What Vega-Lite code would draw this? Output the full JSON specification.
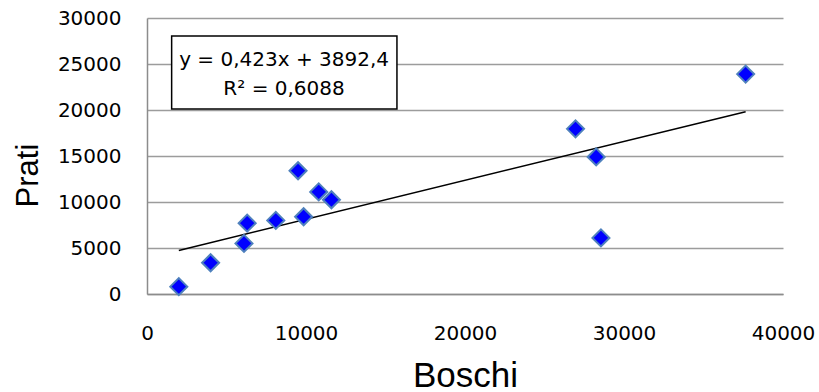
{
  "$schema": "https://vega.github.io/schema/vega-lite/v6.json",
  "autosize": {"type": "none"},
  "width": 636,
  "height": 276,
  "padding": {"left": 147, "top": 18, "right": 36, "bottom": 98},
  "background": "white",
  "config": {"view": {"stroke": null}},
  "datasets": {
    "points": [
      {"Boschi": 2000, "Prati": 800},
      {"Boschi": 4000, "Prati": 3400},
      {"Boschi": 6100, "Prati": 5500},
      {"Boschi": 6300, "Prati": 7700},
      {"Boschi": 8100, "Prati": 8000},
      {"Boschi": 9500, "Prati": 13400},
      {"Boschi": 9850, "Prati": 8400},
      {"Boschi": 10800, "Prati": 11100},
      {"Boschi": 11600, "Prati": 10250},
      {"Boschi": 26950, "Prati": 17950},
      {"Boschi": 28250, "Prati": 14900},
      {"Boschi": 28550, "Prati": 6100},
      {"Boschi": 37650, "Prati": 23900}
    ],
    "trend": [
      {"Boschi": 2000, "Prati": 4738},
      {"Boschi": 37650, "Prati": 19818}
    ],
    "box": [
      {"x1": 1550, "x2": 15720, "y1": 20110, "y2": 28040}
    ],
    "label": [
      {"x": 8620, "y": 24730, "t": "y = 0,423x + 3892,4"},
      {"x": 8620, "y": 21630, "t": "R² = 0,6088"}
    ]
  },
  "layer": [
    {
      "data": {"name": "trend"},
      "mark": {"type": "line", "color": "black", "strokeWidth": 1.5},
      "encoding": {
        "x": {
          "field": "Boschi", "type": "quantitative",
          "scale": {"domain": [0, 40000], "nice": false},
          "axis": {
            "title": "Boschi", "values": [0, 10000, 20000, 30000, 40000], "format": "d",
            "grid": false, "ticks": false, "domain": true, "domainColor": "#8C8C8C", "domainWidth": 1.5,
            "labelFont": "DejaVu Sans", "labelFontSize": 20, "labelColor": "black", "labelPadding": 29,
            "labelFlush": false,
            "titleFont": "Liberation Sans", "titleFontSize": 35, "titleFontWeight": "normal",
            "titleColor": "black", "titleX": 318, "titleY": 92, "titleBaseline": "alphabetic", "titleAlign": "center"
          }
        },
        "y": {
          "field": "Prati", "type": "quantitative",
          "scale": {"domain": [0, 30000], "nice": false},
          "axis": {
            "title": "Prati", "values": [0, 5000, 10000, 15000, 20000, 25000, 30000], "format": "d",
            "grid": true, "gridColor": "#9C9C9C", "gridWidth": 1.5,
            "ticks": false, "domain": true, "domainColor": "#8C8C8C", "domainWidth": 1.5,
            "labelFont": "DejaVu Sans", "labelFontSize": 20, "labelColor": "black", "labelPadding": 26,
            "titleFont": "Liberation Sans", "titleFontSize": 31, "titleFontWeight": "normal",
            "titleColor": "black", "titleX": -110, "titleY": 157, "titleBaseline": "alphabetic", "titleAlign": "center", "titleAngle": 270
          }
        }
      }
    },
    {
      "data": {"name": "points"},
      "mark": {"type": "point", "shape": "diamond", "filled": true, "size": 290,
               "fill": "#0000FF", "stroke": "#4F81BD", "strokeWidth": 2, "opacity": 1},
      "encoding": {
        "x": {"field": "Boschi", "type": "quantitative"},
        "y": {"field": "Prati", "type": "quantitative"}
      }
    },
    {
      "data": {"name": "box"},
      "mark": {"type": "rect", "fill": "white", "stroke": "black", "strokeWidth": 1.5},
      "encoding": {
        "x": {"field": "x1", "type": "quantitative"},
        "x2": {"field": "x2"},
        "y": {"field": "y1", "type": "quantitative"},
        "y2": {"field": "y2"}
      }
    },
    {
      "data": {"name": "label"},
      "mark": {"type": "text", "font": "DejaVu Sans", "fontSize": 20, "color": "black", "align": "center", "baseline": "alphabetic"},
      "encoding": {
        "x": {"field": "x", "type": "quantitative"},
        "y": {"field": "y", "type": "quantitative"},
        "text": {"field": "t"}
      }
    }
  ]
}
